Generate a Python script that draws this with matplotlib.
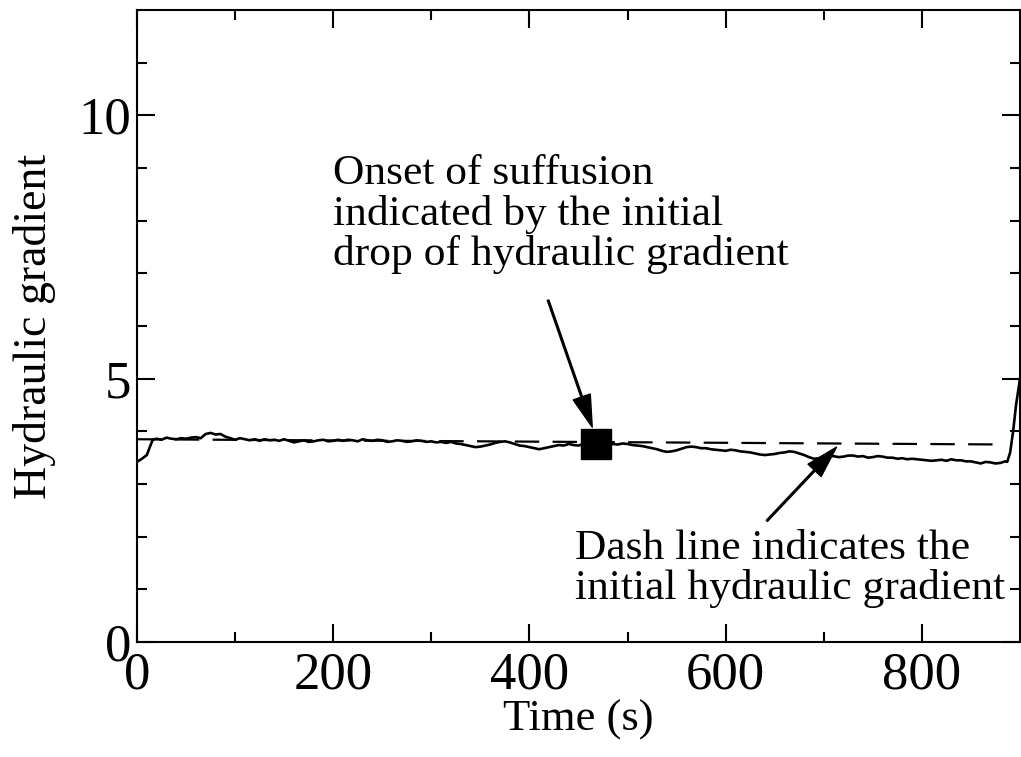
import numpy as np
import matplotlib.pyplot as plt

plt.rcParams['font.family'] = ['Liberation Serif', 'DejaVu Serif']

# time (s) and hydraulic gradient
tiempo = [0, 5, 10, 13, 16,
          20, 25, 30, 35, 40, 45, 50, 55, 60, 65, 70, 75, 80, 85, 90, 95,
          100, 105, 110, 115, 120, 125, 130, 135, 140, 145, 150, 155, 160, 165, 170, 175, 180, 185, 190, 195,
          200, 205, 210, 215, 220, 225, 230, 235, 240, 245, 250, 255, 260, 265, 270, 275, 280, 285, 290, 295,
          300, 305, 310, 315, 320, 325, 330, 335, 340, 345, 350, 355, 360, 365, 370, 375, 380, 385, 390, 395,
          400, 405, 410, 415, 420, 425, 430, 435, 440, 445, 450, 455, 460, 465, 470, 475, 480, 485, 490, 495,
          500, 505, 510, 515, 520, 525, 530, 535, 540, 545, 550, 555, 560, 565, 570, 575, 580, 585, 590, 595,
          600, 605, 610, 615, 620, 625, 630, 635, 640, 645, 650, 655, 660, 665, 670, 675, 680, 685, 690, 695,
          700, 705, 710, 715, 720, 725, 730, 735, 740, 745, 750, 755, 760, 765, 770, 775, 780, 785, 790, 795,
          800, 805, 810, 815, 820, 825, 830, 835, 840, 845, 850, 855, 860, 865, 870, 875, 880, 885,
          887, 890, 893, 896, 900]
gradiente = [3.42, 3.48, 3.55, 3.70, 3.84,
             3.86, 3.84, 3.88, 3.86, 3.85, 3.87, 3.86, 3.88, 3.89, 3.87, 3.95, 3.97, 3.94, 3.95, 3.90, 3.87,
             3.84, 3.87, 3.85, 3.83, 3.85, 3.82, 3.85, 3.83, 3.84, 3.82, 3.85, 3.82, 3.79, 3.81, 3.83, 3.80, 3.81, 3.83, 3.84, 3.81,
             3.82, 3.84, 3.82, 3.84, 3.83, 3.81, 3.85, 3.83, 3.82, 3.84, 3.83, 3.80, 3.81, 3.83, 3.82, 3.80, 3.81, 3.83, 3.82, 3.80,
             3.81, 3.79, 3.80, 3.78, 3.80, 3.77, 3.76, 3.74, 3.72, 3.70, 3.71, 3.73, 3.75, 3.78, 3.80, 3.81, 3.79, 3.76, 3.73, 3.72,
             3.70, 3.68, 3.66, 3.68, 3.70, 3.72, 3.74, 3.73, 3.76, 3.74, 3.73, 3.76, 3.76, 3.75, 3.75, 3.77, 3.74, 3.76, 3.75, 3.77,
             3.76, 3.74, 3.73, 3.72, 3.70, 3.68, 3.66, 3.63, 3.61, 3.62, 3.64, 3.67, 3.70, 3.71, 3.70, 3.68, 3.68, 3.66, 3.65, 3.64,
             3.63, 3.65, 3.64, 3.62, 3.61, 3.60, 3.58, 3.56, 3.55, 3.56, 3.57, 3.59, 3.60, 3.62, 3.61, 3.58, 3.55, 3.51, 3.48, 3.49,
             3.50, 3.52, 3.53, 3.51, 3.52, 3.54, 3.54, 3.52, 3.53, 3.50, 3.51, 3.53, 3.52, 3.50, 3.50, 3.48, 3.49, 3.47, 3.48, 3.47,
             3.46, 3.45, 3.44, 3.45, 3.46, 3.44, 3.47, 3.45, 3.45, 3.43, 3.43, 3.41, 3.39, 3.42, 3.41, 3.39, 3.40, 3.43,
             3.42, 3.60, 4.00, 4.50, 5.00]

# dash line: initial hydraulic gradient
dash_t = [0, 885]
dash_g = [3.85, 3.75]

# onset of suffusion
onset_t = 468
onset_g = 3.76

fig = plt.figure(figsize=(10.21, 7.57), dpi=100)
ax = fig.add_axes([0.1342, 0.1519, 0.8648, 0.8349])

ax.plot(tiempo, gradiente, color='black', lw=1.9)
ax.plot(dash_t, dash_g, color='black', lw=1.6, dashes=(11, 6))
ax.plot(onset_t, onset_g, marker='s', color='black', markersize=22)

ax.set_xlim(0, 900)
ax.set_ylim(0, 12)
ax.set_xticks([0, 200, 400, 600, 800])
ax.set_xticks(range(100, 900, 200), minor=True)
ax.set_yticks([0, 5, 10])
ax.set_yticks([1, 2, 3, 4, 6, 7, 8, 9, 11], minor=True)
ax.tick_params(which='both', direction='in', top=True, right=True, width=1.5)
ax.tick_params(which='major', length=13, labelsize=38)
ax.tick_params(axis='x', which='major', pad=7)
ax.tick_params(axis='y', which='major', pad=4)
ax.tick_params(which='minor', length=7)
for s in ax.spines.values():
    s.set_linewidth(1.5)

ax.set_xlabel('Time (s)', fontsize=32, labelpad=0)
ax.set_ylabel('Hydraulic gradient', fontsize=33, labelpad=16)

ax.annotate('', xy=(464, 4.08), xytext=(419, 6.49),
            arrowprops=dict(facecolor='black', width=1.2, headwidth=13, headlength=23, shrink=0))
ax.annotate('', xy=(713, 3.70), xytext=(642, 2.30),
            arrowprops=dict(facecolor='black', width=1.2, headwidth=13, headlength=23, shrink=0))

ax.text(199.5, 9.25, 'Onset of suffusion\nindicated by the initial\ndrop of hydraulic gradient',
        fontsize=31.3, va='top', ha='left', linespacing=1.04)
ax.text(446, 2.14, 'Dash line indicates the\ninitial hydraulic gradient',
        fontsize=31.3, va='top', ha='left', linespacing=1.04)

fig.savefig('out.png', dpi=100)
